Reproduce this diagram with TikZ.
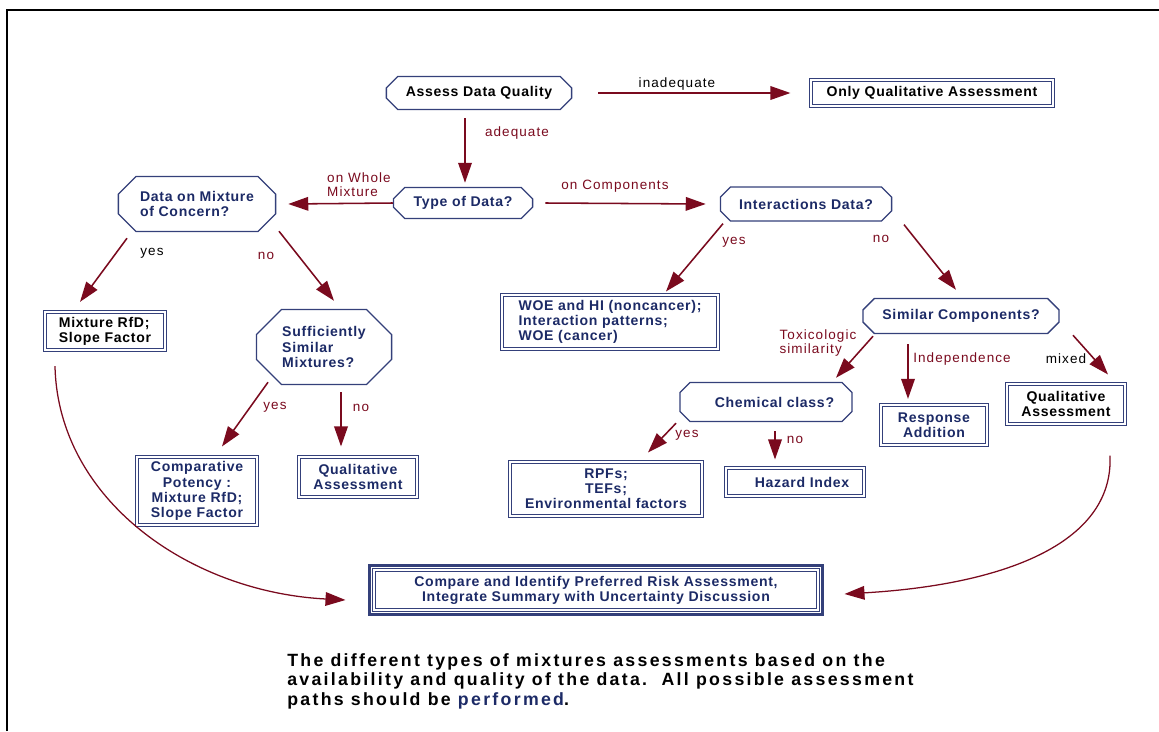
\documentclass[tikz,border=0pt]{standalone}
\usepackage{fontspec}
\setmainfont{Liberation Sans}[LetterSpace=5]
\newfontfamily\labelfont{Liberation Sans}[LetterSpace=8]
\newfontfamily\captionfont{Liberation Sans}[LetterSpace=13]
\usetikzlibrary{shapes.misc, arrows.meta, calc}
\definecolor{navyline}{HTML}{34407A}
\definecolor{navytext}{HTML}{1C2A66}
\definecolor{arrowred}{HTML}{7A0A1E}

\begin{document}
\begin{tikzpicture}[x=0.025cm, y=-0.025cm,
  question/.style={chamfered rectangle, chamfered rectangle xsep=#1, draw=navyline, line width=0.9pt,
    fill=white, text=navytext, font=\bfseries\fontsize{10}{10.8}\selectfont, align=center, inner sep=0pt},
  result/.style={rectangle, draw=navyline, double=white, double distance=1.3pt, line width=0.75pt,
    text=navytext, font=\bfseries\fontsize{10}{10.8}\selectfont, align=center, inner sep=0pt},
  flow/.style={draw=arrowred, line width=1.1pt, -{Triangle[length=0.5cm, width=0.34cm]}},
  lbl/.style={text=arrowred, font=\labelfont\fontsize{9.6}{10}\selectfont, align=left, inner sep=0pt},
  lblk/.style={lbl, text=black}]
  \useasboundingbox (0,0) rectangle (1159,731);

  % === frame ===
  \draw[line width=1.8pt] (7,731) -- (7,10) -- (1159,10);

  % === top row ===
  \node[question=0.25cm, minimum width=4.63cm, minimum height=0.83cm, text=black] (assess) at (479,93) {Assess Data Quality};
  \node[result, minimum width=6.05cm, minimum height=0.63cm, text=black] (only) at (932,93) {Only Qualitative Assessment};
  \node[question=0.22cm, minimum width=3.48cm, minimum height=0.78cm] (type) at (463,203) {Type of Data?};

  % === whole mixture branch ===
  \node[question=0.48cm, minimum width=3.93cm, minimum height=1.38cm, align=left] (dmix) at (197,204) {Data on Mixture\\of Concern?};
  \node[result, minimum width=3.0cm, minimum height=0.93cm, align=left, text=black] (mrfd) at (105,331) {Mixture RfD;\\Slope Factor};
  \node[question=0.65cm, minimum width=3.38cm, minimum height=1.88cm, align=left] (suff) at (324,347) {Sufficiently\\Similar\\Mixtures?};
  \node[result, minimum width=3.0cm, minimum height=1.7cm] (comp) at (197,491) {Comparative\\Potency :\\Mixture RfD;\\Slope Factor};
  \node[result, minimum width=2.93cm, minimum height=1.0cm] (qmid) at (358,477) {Qualitative\\Assessment};

  % === components branch ===
  \node[question=0.3cm, minimum width=4.28cm, minimum height=0.85cm] (inter) at (806,204) {Interactions Data?};
  \node[result, minimum width=5.38cm, minimum height=1.35cm, align=left] (woe) at (610,322) {WOE and HI (noncancer);\\Interaction patterns;\\WOE (cancer)};
  \node[question=0.3cm, minimum width=4.9cm, minimum height=0.88cm] (simc) at (961,316) {Similar Components?};
  \node[question=0.32cm, minimum width=4.3cm, minimum height=0.98cm] (chem) at (766,402) {\hspace{12pt}Chemical class?};
  \node[result, minimum width=2.65cm, minimum height=0.98cm] (resp) at (934,425) {Response\\Addition};
  \node[result, minimum width=2.95cm, minimum height=1.0cm, text=black] (qright) at (1066,404) {Qualitative\\Assessment};
  \node[result, minimum width=4.78cm, minimum height=1.35cm] (rpf) at (606,489) {RPFs;\\TEFs;\\Environmental factors};
  \node[result, minimum width=3.45cm, minimum height=0.7cm] (haz) at (795,482) {\hspace{10pt}Hazard Index};

  % === final box ===
  \node[result, line width=0.6pt, double distance=1.2pt, minimum width=11.1cm, minimum height=1.0cm] (cmp) at (596,590)
    {Compare and Identify Preferred Risk Assessment,\\Integrate Summary with Uncertainty Discussion};
  \draw[navyline, line width=1.6pt] ([shift={(-4,4)}]cmp.south west) rectangle ([shift={(4,-4)}]cmp.north east);

  % === arrows ===
  \draw[flow] ([shift={(26,0)}]assess.east) -- ([shift={(-20,0)}]only.west);
  \draw[flow] ([shift={(-14,8)}]assess.south) -- ([shift={(2,-4)}]type.north);
  \draw[flow] (type.west) -- ([shift={(12,0)}]dmix.east);
  \draw[flow] ([shift={(12,0)}]type.east) -- ([shift={(-14,0)}]inter.west);
  \draw[flow] ([shift={(-70,6)}]dmix.south) -- ([shift={(-25,-10)}]mrfd.north);
  \draw[flow] ([shift={(82,-1)}]dmix.south) -- ([shift={(10,-8)}]suff.north);
  \draw[flow] ([shift={(-83,2)}]inter.south) -- ([shift={(56,-3)}]woe.north);
  \draw[flow] ([shift={(98,3)}]inter.south) -- ([shift={(-5,-8)}]simc.north);
  \draw[flow] ([shift={(-56,-3)}]suff.south) -- ([shift={(25,-10)}]comp.north);
  \draw[flow] ([shift={(17,7)}]suff.south) -- ([shift={(-17,-10)}]qmid.north);
  \draw[flow] ([shift={(-88,2)}]simc.south) -- ([shift={(70,-4)}]chem.north);
  \draw[flow] ([shift={(-53,10)}]simc.south) -- ([shift={(-26,-6)}]resp.north);
  \draw[flow] ([shift={(112,1)}]simc.south) -- ([shift={(42,-9)}]qright.north);
  \draw[flow] ([shift={(-90,1)}]chem.south) -- ([shift={(42,-9)}]rpf.north);
  \draw[flow] ([shift={(9,9)}]chem.south) -- ([shift={(-20,-8)}]haz.north);
  % curved returns to the final box
  \draw[flow, line width=0.9pt] ([shift={(-50,16)}]mrfd.south) .. controls (58,500) and (190,592) .. ([shift={(-28,10)}]cmp.west);
  \draw[flow, line width=0.9pt] ([shift={(44,31)}]qright.south) .. controls (1114,545) and (1000,585) .. ([shift={(26,4)}]cmp.east);

  % === labels ===
  \node[lblk] (lInadequate) at (677,84) {inadequate};
  \node[lbl] (lAdequate) at (517,133) {adequate};
  \node[lbl] (lWhole) at (359,185) {on Whole\\Mixture};
  \node[lbl] (lComp) at (615,186) {on Components};
  \node[lblk] (lYesA) at (152,253) {yes};
  \node[lbl] (lNoA) at (266,256) {no};
  \node[lbl] (lYesB) at (734,242) {yes};
  \node[lbl] (lNoB) at (881,239) {no};
  \node[lbl] (lYesC) at (275,407) {yes};
  \node[lbl] (lNoC) at (361,408) {no};
  \node[lbl] (lTox) at (818,343) {Toxicologic\\similarity};
  \node[lbl] (lIndep) at (962,359) {Independence};
  \node[lblk] (lMixed) at (1066,359) {mixed};
  \node[lbl] (lYesD) at (687,435) {yes};
  \node[lbl] (lNoD) at (795,440) {no};

  % === caption ===
  \node[anchor=north west, align=left, inner sep=0pt, font=\captionfont\bfseries\fontsize{12.6}{13.9}\selectfont] (caption) at (287,653)
    {The different types of mixtures assessments based on the\\availability and quality of the data.\ \ All possible assessment\\paths should be \textcolor{navytext}{performed}.};
\end{tikzpicture}
\end{document}
